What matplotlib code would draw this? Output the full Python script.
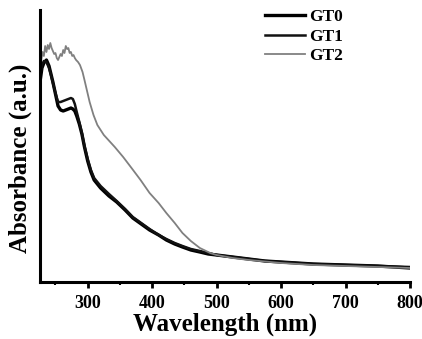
import matplotlib.pyplot as plt
from matplotlib.ticker import MultipleLocator

# wavelength (nm) / absorbance (a.u.)
wl_gt0 = [226, 229, 232, 236, 240, 243, 246, 250, 254, 258, 262, 266, 270, 274, 277,
          280, 283, 287, 291, 295, 300, 305, 310, 320, 333, 345, 358, 370, 383, 396,
          410, 422, 435, 447, 460, 474, 487, 500, 525, 550, 575, 600, 650, 700, 750, 800]
abs_gt0 = [200, 214, 219, 222, 216, 208, 200, 188, 176, 172, 171, 172, 173, 174, 173,
           171, 166, 158, 148, 135, 121, 110, 102, 94, 86, 80, 72, 64, 58, 52,
           47, 42, 38, 35, 32, 30, 28, 27, 25, 23, 21, 20, 18, 17, 16, 14]

wl_gt1 = [226, 229, 232, 236, 240, 243, 246, 250, 254, 258, 262, 266, 270, 274, 277,
          280, 283, 287, 291, 295, 300, 305, 310, 320, 333, 345, 358, 370, 383, 396,
          410, 422, 435, 447, 460, 474, 487, 500, 525, 550, 575, 600, 650, 700, 750, 800]
abs_gt1 = [205, 217, 221, 220, 214, 207, 199, 189, 180, 180, 181, 182, 183, 184, 183,
           178, 170, 160, 149, 136, 123, 112, 104, 96, 88, 81, 73, 65, 59, 53,
           47, 43, 39, 36, 33, 31, 29, 27, 25, 23, 21, 20, 18, 17, 16, 15]

wl_gt2 = [226, 228, 230, 232, 234, 236, 238, 240, 242, 244, 246, 248, 250, 252, 254,
          256, 258, 260, 262, 264, 266, 268, 270, 272, 274, 276, 278, 280, 282, 285,
          288, 292, 295, 299, 303, 309, 315, 325, 342, 355, 368, 382, 396, 410, 422,
          435, 447, 460, 474, 490, 500, 525, 550, 600, 650, 700, 750, 800]
abs_gt2 = [205, 222, 230, 226, 236, 230, 237, 233, 239, 234, 231, 228, 229, 224, 222,
           225, 228, 226, 232, 229, 236, 233, 234, 229, 230, 226, 227, 224, 222, 220,
           217, 210, 202, 191, 180, 167, 157, 147, 135, 125, 114, 102, 89, 79, 69,
           59, 49, 41, 34, 29, 27, 24, 22, 19, 17, 16, 15, 14]

plt.rcParams['font.family'] = 'Liberation Serif'
plt.rcParams['font.weight'] = 'bold'

fig = plt.figure(figsize=(4.22, 3.39), dpi=100)
ax = fig.add_axes([40 / 422, 57 / 339, 370 / 422, 272 / 339])

ax.plot(wl_gt0, abs_gt0, color='black', lw=2.4, label='GT0')
ax.plot(wl_gt1, abs_gt1, color='#111111', lw=1.8, label='GT1')
ax.plot(wl_gt2, abs_gt2, color='#808080', lw=1.3, label='GT2')

ax.set_xlim(226, 800)
ax.set_ylim(0, 272)
ax.spines['top'].set_visible(False)
ax.spines['right'].set_visible(False)
ax.spines['left'].set_linewidth(2.2)
ax.spines['bottom'].set_linewidth(2.2)
ax.set_yticks([])
ax.xaxis.set_major_locator(MultipleLocator(100))
ax.xaxis.set_minor_locator(MultipleLocator(50))
ax.tick_params(axis='x', which='major', length=4, width=2, labelsize=13, pad=5)
ax.tick_params(axis='x', which='minor', length=2, width=1.5)

ax.set_xlabel('Wavelength (nm)', fontsize=18, fontweight='bold', labelpad=1)
ax.set_ylabel('Absorbance (a.u.)', fontsize=18, fontweight='bold')
ax.yaxis.set_label_coords(-0.022, 0.456)

leg = ax.legend(loc='upper left', bbox_to_anchor=(258 / 422, 1 - 2 / 339),
                bbox_transform=fig.transFigure, frameon=False, fontsize=12.5,
                handlelength=2.3, handletextpad=0.25, labelspacing=0.2,
                borderaxespad=0)

fig.savefig('out.png', dpi=100)
